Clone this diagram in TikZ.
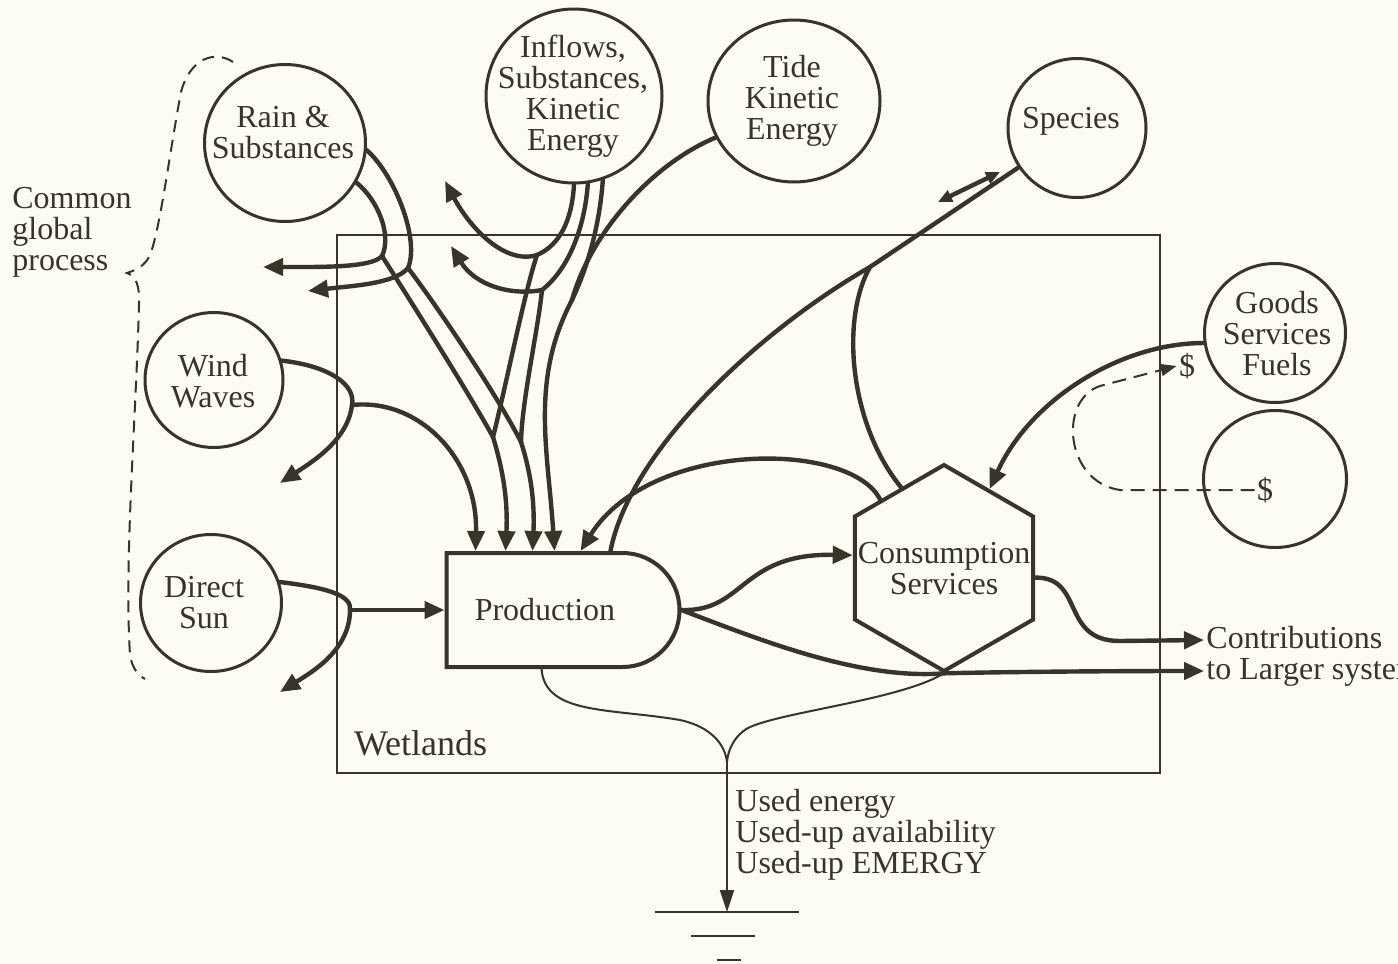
\documentclass[tikz,border=0pt]{standalone}
\usepackage{fontspec}
\setmainfont{Liberation Serif}
\usetikzlibrary{arrows.meta,shapes.geometric,shapes.misc,calc}
\definecolor{ink}{RGB}{55,52,42}
\definecolor{paper}{RGB}{252,252,242}
\begin{document}
\begin{tikzpicture}[x=0.5pt,y=-0.5pt,
	every node/.style={text=ink},
	txt/.style={font=\fontsize{16}{15.5}\selectfont,align=center,inner sep=1pt},
	src/.style={draw=ink,line width=1.5pt,ellipse,inner sep=0pt},
	flow/.style={draw=ink,line width=2.2pt,line cap=round},
	arrow/.style={-{Triangle[length=10pt,width=8.5pt]}},
	thin/.style={draw=ink,line width=1pt},
	money/.style={draw=ink,line width=1pt,dash pattern=on 7pt off 4pt},
	prodbox/.style={draw=ink,line width=2pt,rounded rectangle,rounded rectangle left arc=none,
		minimum width=116.5pt,minimum height=57pt,inner sep=0pt},
	hexbox/.style={draw=ink,line width=2pt,regular polygon,regular polygon sides=6,
		shape border rotate=30,minimum size=103pt,inner sep=0pt}
	]
	\useasboundingbox (0,0) rectangle (1398,964);
	\clip (0,0) rectangle (1398,964);
	\fill[paper] (0,0) rectangle (1398,964);
	
	% wetlands frame
	\draw[ink,line width=0.8pt] (337,235) rectangle (1160,773);
	\node[font=\fontsize{18}{18}\selectfont,anchor=west] (wet) at (347,743) {Wetlands};
	
	% sources
	\node[src,minimum width=80.5pt,minimum height=78.5pt] (rain) at (285,143) {};
	\node[txt] (rain-t) at (283,133) {Rain \&\\Substances};
	\node[src,minimum width=88pt,minimum height=87pt] (infl) at (574,96) {};
	\node[txt] (infl-t) at (573,96) {Inflows,\\Substances,\\Kinetic\\Energy};
	\node[src,minimum width=86pt,minimum height=81pt] (tide) at (794,101) {};
	\node[txt] (tide-t) at (792,101) {Tide\\Kinetic\\Energy};
	\node[src,minimum width=69pt,minimum height=69.5pt] (spec) at (1077,128) {};
	\node[txt] (spec-t) at (1071,121) {Species};
	\node[src,minimum width=70.5pt,minimum height=69.5pt] (goods) at (1275,333) {};
	\node[txt] (goods-t) at (1277,334) {Goods\\Services\\Fuels};
	\node[src,minimum width=71.5pt,minimum height=68.5pt] (dol) at (1275,479) {};
	\node[txt] (dolB) at (1265,490) {\$};
	\node[txt] (dolA) at (1187,366) {\$};
	\node[src,minimum width=69pt,minimum height=67.5pt] (wind) at (214,380) {};
	\node[txt] (wind-t) at (213,381) {Wind\\Waves};
	\node[src,minimum width=70.5pt,minimum height=68.5pt] (sun) at (211,603) {};
	\node[txt] (sun-t) at (204,603) {Direct\\Sun};
	
	% storages inside
	\node[prodbox] (prod) at (563,610) {};
	\node[txt] (prod-t) at (545,610) {Production};
	\node[hexbox] (cons) at (944,568) {};
	\node[txt] (cons-t) at (944,569) {Consumption\\Services};
	
	% outside texts
	\node[txt,anchor=west,align=left] (common) at (10,232) {Common\\global\\process};
	\node[txt,anchor=west,align=left] (cont) at (1204,656) {Contributions\\to Larger systems};
	\node[txt,anchor=west,align=left] (used) at (733,835) {Used energy\\Used-up availability\\Used-up EMERGY};
	
	% rain
	\coordinate (ja) at (382,256);
	\coordinate (jb) at (408,268);
	\coordinate (m1) at (493,437);
	\coordinate (m2) at (521,442);
	\coordinate (rainout1) at (263,267);
	\coordinate (rainout2) at (308,291);
	\draw[flow] (rain.-29) .. controls (378,200) and (392,235) .. (ja);
	\draw[flow,arrow] (ja) .. controls (372,268) and (320,267) .. (rainout1);
	\draw[flow] (ja) .. controls (410,300) and (470,395) .. (m1);
	\draw[flow] (rain.-5) .. controls (395,175) and (420,240) .. (jb);
	\draw[flow,arrow] (jb) .. controls (395,284) and (350,286) .. (rainout2);
	\draw[flow] (jb) .. controls (440,310) and (500,400) .. (m2);
	
	% inflows and tide
	\coordinate (jc) at (537,255);
	\coordinate (jd) at (542,290);
	\coordinate (m3) at (572,300);
	\coordinate (inout1) at (445,181);
	\coordinate (inout2) at (451,246);
	\draw[flow] (infl.-90) .. controls (572,220) and (560,245) .. (jc);
	\draw[flow,arrow] (jc) .. controls (505,265) and (470,228) .. (inout1);
	\draw[flow] (jc) .. controls (525,290) and (505,390) .. (m1);
	\draw[flow] (infl.-81) .. controls (585,225) and (570,268) .. (jd);
	\draw[flow,arrow] (jd) .. controls (510,296) and (475,285) .. (inout2);
	\draw[flow] (jd) .. controls (538,330) and (522,400) .. (m2);
	\draw[flow] (infl.-71) .. controls (600,220) and (590,262) .. (m3);
	\draw[flow] (tide.205) .. controls (650,165) and (590,235) .. (m3);
	\draw[flow,arrow] (m1) .. controls (503,470) and (508,500) .. ($(prod.north west)+(61,0)$);
	\draw[flow,arrow] (m2) .. controls (530,470) and (535,500) .. ($(prod.north west)+(88,0)$);
	\draw[flow,arrow] (m3) .. controls (530,380) and (548,450) .. ($(prod.north west)+(110,0)$);
	
	% wind and sun
	\coordinate (jw) at (352,405);
	\coordinate (windout) at (280,483);
	\draw[flow] (wind.16) .. controls (330,366) and (356,385) .. (jw);
	\draw[flow,arrow] (jw) .. controls (348,440) and (312,462) .. (windout);
	\draw[flow,arrow] (jw) .. controls (420,398) and (478,460) .. ($(prod.north west)+(31,0)$);
	\coordinate (js) at (350,610);
	\coordinate (sunout) at (280,692);
	\draw[flow] (sun.17) .. controls (330,588) and (352,596) .. (js);
	\draw[flow,arrow] (js) .. controls (350,650) and (312,672) .. (sunout);
	\draw[flow,arrow] (js) -- (prod.west);
	
	% species
	\coordinate (jsp) at (870,267);
	\coordinate (swapA) at (938,202);
	\coordinate (swapB) at (1000,172);
	\draw[flow] ($(prod.north west)+(166,0)$) .. controls (630,450) and (760,330) .. (jsp) -- (spec.214);
	\draw[flow,{Triangle[length=7pt,width=6pt]}-{Triangle[length=7pt,width=6pt]}] (swapA) -- (swapB);
	\draw[flow] (jsp) .. controls (840,320) and (850,425) .. (cons.118);
	\draw[flow,arrow] (cons.133) .. controls (850,440) and (650,440) .. ($(prod.north west)+(136,0)$);
	
	% production and consumption outputs
	\draw[flow,arrow] (prod.east) .. controls (745,612) and (740,553) .. (cons.172);
	\draw[flow] (prod.east) .. controls (760,640) and (860,680) .. (cons.south);
	\draw[flow,arrow] (cons.south) .. controls (1000,672) and (1100,671) .. ($(cont.west)+(0,15)$);
	\draw[flow,arrow] (cons.-6) .. controls (1085,577) and (1060,641) .. (1120,641) -- ($(cont.west)+(0,-16)$);
	
	% purchased inputs
	\draw[flow,arrow] (goods.188) .. controls (1120,343) and (1030,400) .. (cons.60);
	\draw[money,-{Triangle[length=8pt,width=6pt]}] (dolB.west) -- (1120,490) .. controls (1065,482) and (1058,400) .. (1100,386) -- (dolA.west);
	
	% used energy to heat sink
	\coordinate (jh) at (727,762);
	\coordinate (gnd) at (727,912);
	\draw[thin] (prod.-110) .. controls (545,715) and (610,708) .. (680,720) .. controls (712,727) and (725,745) .. (jh);
	\draw[thin] (cons.south) .. controls (900,700) and (780,712) .. (748,728) .. controls (734,736) and (728,750) .. (jh);
	\draw[thin,-{Triangle[length=11pt,width=7pt]}] (jh) -- (gnd);
	\draw[thin] ($(gnd)+(-72,0)$) -- ($(gnd)+(72,0)$);
	\draw[thin] ($(gnd)+(-36,24)$) -- ($(gnd)+(28,24)$);
	\draw[thin] ($(gnd)+(-10,48)$) -- ($(gnd)+(14,48)$);
	
	% common global process brace
	\draw[ink,line width=1pt,dash pattern=on 6pt off 4pt] (233,62) .. controls (215,50) and (190,58) .. (181,92)
		.. controls (170,150) and (160,230) .. (150,255) .. controls (145,266) and (136,270) .. (127,273)
		.. controls (136,276) and (140,286) .. (139,305) .. controls (136,420) and (124,560) .. (130,655)
		.. controls (132,668) and (138,675) .. (145,679);
\end{tikzpicture}
\end{document}
